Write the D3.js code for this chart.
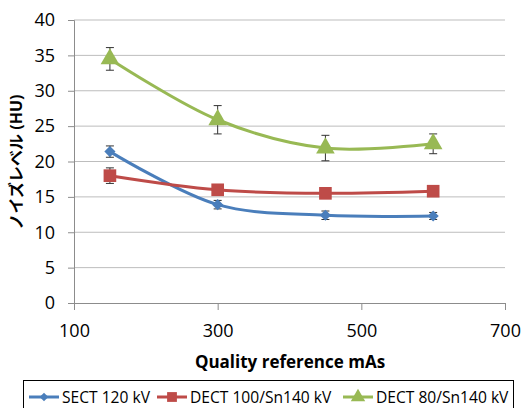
<!DOCTYPE html>
<html><head><meta charset="utf-8">
<script src="https://cdn.jsdelivr.net/npm/d3@7"></script>
<style>
body{margin:0;background:#fff;}
text{font-family:"Open Sans","Noto Sans CJK JP",sans-serif;fill:#000;}
</style></head>
<body><svg id="c" width="531" height="408"></svg>
<script>
const xValues = [150, 300, 450, 600];
const sectValues = [21.4, 13.9, 12.4, 12.3];
const sectErr = [0.8, 0.6, 0.6, 0.5];
const dect100Values = [18.0, 16.0, 15.5, 15.8];
const dect100Err = [1.1, 0.6, 0.7, 0.3];
const dect80Values = [34.5, 25.9, 21.9, 22.5];
const dect80Err = [1.6, 2.0, 1.8, 1.4];
const seriesNames = ["SECT 120 kV", "DECT 100/Sn140 kV", "DECT 80/Sn140 kV"];
const xTicks = [100, 300, 500, 700];
const yTicks = [0, 5, 10, 15, 20, 25, 30, 35, 40];
const xTitle = "Quality reference mAs";
const yTitle = "ノイズレベル (HU)";

const svg = d3.select("#c");
const pLeft = 74, pRight = 505, pTop = 20, pBottom = 303;
const x = d3.scaleLinear().domain([100, 700]).range([pLeft, pRight]);
const y = d3.scaleLinear().domain([0, 40]).range([pBottom, pTop]);

// gridlines
svg.append("g").selectAll("line").data(yTicks.filter(d => d > 0)).join("line")
  .attr("x1", pLeft).attr("x2", pRight).attr("y1", d => y(d)).attr("y2", d => y(d))
  .attr("stroke", "#bdbdbd").attr("stroke-width", 1);

// axes
const yAxis = d3.axisLeft(y).tickValues(yTicks).tickSize(6).tickPadding(13);
const gy = svg.append("g").attr("transform", `translate(${pLeft},0)`).call(yAxis);
const xAxis = d3.axisBottom(x).tickValues(xTicks).tickSize(7).tickPadding(10);
const gx = svg.append("g").attr("transform", `translate(0,${pBottom})`).call(xAxis);
[gx, gy].forEach(g => {
  g.select(".domain").attr("stroke", "#8c8c8c");
  g.selectAll(".tick line").attr("stroke", "#8c8c8c");
  g.selectAll("text").style("font-size", "18px").attr("fill", "#000");
});
gx.selectAll("text").attr("dy", "0.95em");

// titles
svg.append("text").attr("x", 290).attr("y", 368)
  .attr("text-anchor", "middle").style("font-size", "17px").style("font-weight", "bold").text(xTitle);
svg.append("text").attr("transform", "translate(22,162) rotate(-90)")
  .attr("text-anchor", "middle").style("font-size", "16px").style("font-weight", "bold").text(yTitle);

const series = [
  {name: seriesNames[0], vals: sectValues, err: sectErr, color: "#4a7ebb", shape: d3.symbolSquare, size: 62, rot: 45},
  {name: seriesNames[1], vals: dect100Values, err: dect100Err, color: "#be4b48", shape: d3.symbolSquare, size: 160, rot: 0},
  {name: seriesNames[2], vals: dect80Values, err: dect80Err, color: "#98b954", shape: d3.symbolTriangle, size: 150, rot: 0}
];

const line = d3.line().x(d => x(d[0])).y(d => y(d[1])).curve(d3.curveCatmullRom.alpha(0.5));

series.forEach(s => {
  const pts = xValues.map((xv, i) => [xv, s.vals[i], s.err[i]]);
  svg.append("path").datum(pts).attr("d", line).attr("fill", "none")
    .attr("stroke", s.color).attr("stroke-width", 3);
  const eg = svg.append("g");
  pts.forEach(p => {
    const cx = x(p[0]), y1 = y(p[1] + p[2]), y2 = y(p[1] - p[2]);
    eg.append("line").attr("x1", cx).attr("x2", cx).attr("y1", y1).attr("y2", y2).attr("stroke", "#333").attr("stroke-width", 1);
    eg.append("line").attr("x1", cx - 4).attr("x2", cx + 4).attr("y1", y1).attr("y2", y1).attr("stroke", "#333").attr("stroke-width", 1);
    eg.append("line").attr("x1", cx - 4).attr("x2", cx + 4).attr("y1", y2).attr("y2", y2).attr("stroke", "#333").attr("stroke-width", 1);
  });
  svg.append("g").selectAll("path").data(pts).join("path")
    .attr("transform", d => `translate(${x(d[0])},${y(d[1])}) rotate(${s.rot})`)
    .attr("d", d3.symbol().type(s.shape).size(s.size)).attr("fill", s.color);
});

// legend
const lg = svg.append("g");
lg.append("rect").attr("x", 23.5).attr("y", 380.5).attr("width", 490).attr("height", 40)
  .attr("fill", "#fff").attr("stroke", "#000").attr("stroke-width", 1);
const legendX = [29, 157, 343];
series.forEach((s, i) => {
  const lx = legendX[i], ly = 397;
  lg.append("line").attr("x1", lx).attr("x2", lx + 30).attr("y1", ly).attr("y2", ly)
    .attr("stroke", s.color).attr("stroke-width", 3);
  lg.append("path").attr("transform", `translate(${lx + 15},${ly}) rotate(${s.rot})`)
    .attr("d", d3.symbol().type(s.shape).size(s.size * 0.6)).attr("fill", s.color);
  lg.append("text").attr("x", lx + 33).attr("y", 403).style("font-size", "15.6px").text(s.name);
});
</script></body></html>
